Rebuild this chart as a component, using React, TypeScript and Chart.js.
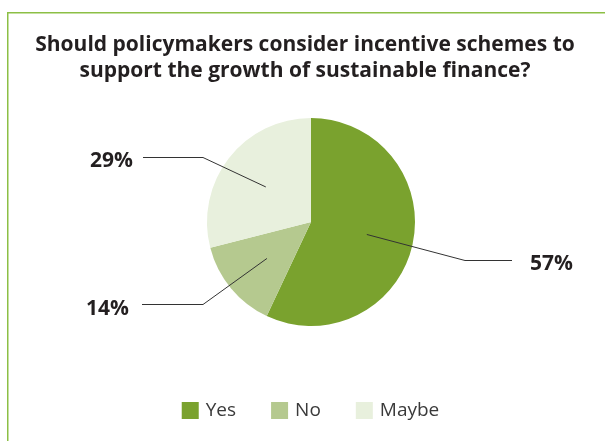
import React, { useEffect, useRef } from "react";
import { Chart, registerables } from "chart.js";

Chart.register(...registerables);

const categories = ["Yes", "No", "Maybe"];
const shares = [57, 14, 29];
const sliceColors = ["#7aa22e", "#b5c98f", "#e8f0dd"];
const percentLabels = ["57%", "14%", "29%"];
const titleLines = [
  "Should policymakers consider incentive schemes to",
  "support the growth of sustainable finance?",
];

const W = 605;
const H = 441;

const decorPlugin = {
  id: "decor",
  afterDraw(chart: any) {
    const ctx = chart.ctx as CanvasRenderingContext2D;
    ctx.save();

    // frame
    ctx.strokeStyle = "#8cbf45";
    ctx.lineWidth = 1.5;
    ctx.beginPath();
    ctx.moveTo(7.75, H);
    ctx.lineTo(7.75, 12.75);
    ctx.lineTo(W, 12.75);
    ctx.stroke();

    // title
    ctx.fillStyle = "#231f20";
    ctx.font = 'bold 21px "Open Sans"';
    ctx.textAlign = "center";
    ctx.textBaseline = "alphabetic";
    ctx.fillText(titleLines[0], 305, 51);
    ctx.fillText(titleLines[1], 305, 77);

    // leader lines + percent labels
    const layout = [
      { elbow: [465, 260], end: [512, 260], tx: 530, ty: 270, align: "left" },
      { elbow: [203, 304], end: [142, 304], tx: 129, ty: 315, align: "right" },
      { elbow: [203, 157], end: [143, 157], tx: 133, ty: 167, align: "right" },
    ];
    const meta = chart.getDatasetMeta(0);
    meta.data.forEach((arc: any, i: number) => {
      const p = arc.getProps(["x", "y", "startAngle", "endAngle", "outerRadius"], true);
      const mid = (p.startAngle + p.endAngle) / 2;
      const sx = p.x + Math.cos(mid) * p.outerRadius * 0.55;
      const sy = p.y + Math.sin(mid) * p.outerRadius * 0.55;
      const L = layout[i];
      ctx.strokeStyle = "#333333";
      ctx.lineWidth = 1;
      ctx.beginPath();
      ctx.moveTo(sx, sy);
      ctx.lineTo(L.elbow[0], L.elbow[1] + 0.5);
      ctx.lineTo(L.end[0], L.end[1] + 0.5);
      ctx.stroke();
      ctx.fillStyle = "#231f20";
      ctx.font = 'bold 21px "Open Sans"';
      ctx.textAlign = L.align as CanvasTextAlign;
      ctx.fillText(percentLabels[i], L.tx, L.ty);
    });

    // legend
    ctx.font = '19px "Open Sans"';
    ctx.textAlign = "left";
    const box = 17;
    const gapText = 7;
    const gapItem = 35;
    const widths = categories.map((c) => ctx.measureText(c).width);
    const total =
      widths.reduce((a, w) => a + box + gapText + w, 0) + gapItem * (categories.length - 1);
    let x = 310.5 - total / 2;
    categories.forEach((c, i) => {
      ctx.fillStyle = sliceColors[i];
      ctx.fillRect(x, 402, box, box);
      x += box + gapText;
      ctx.fillStyle = "#3a3a3a";
      ctx.fillText(c, x, 416);
      x += widths[i] + gapItem;
    });

    ctx.restore();
  },
};

export default function App() {
  const ref = useRef<HTMLCanvasElement>(null);
  useEffect(() => {
    if (!ref.current) return;
    const chart = new Chart(ref.current, {
      type: "pie",
      data: {
        labels: categories,
        datasets: [
          {
            data: shares,
            backgroundColor: sliceColors,
            borderWidth: 0,
            hoverOffset: 0,
          },
        ],
      },
      options: {
        responsive: false,
        animation: false,
        radius: 104,
        layout: { padding: { top: 118, bottom: 115, left: 207, right: 190 } },
        plugins: {
          legend: { display: false },
          title: { display: false },
          tooltip: { enabled: false },
        },
      } as any,
      plugins: [decorPlugin],
    });
    return () => chart.destroy();
  }, []);
  return (
    <div style={{ position: "absolute", left: 0, top: 0, width: W, height: H, background: "#fff" }}>
      <canvas ref={ref} width={W} height={H} style={{ display: "block" }} />
    </div>
  );
}
